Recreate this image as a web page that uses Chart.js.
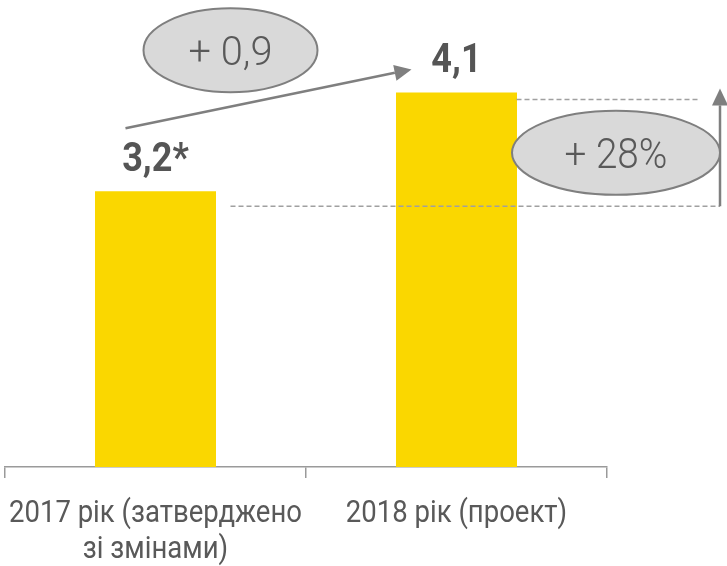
<!DOCTYPE html>
<html><head><meta charset="utf-8">
<script src="https://cdn.jsdelivr.net/npm/chart.js@4/dist/chart.umd.min.js"></script>
<style>html,body{margin:0;padding:0;background:#fff;}#wrap{width:727px;height:566px;position:relative}</style>
</head><body><div id="wrap"><canvas id="c"></canvas></div>
<script>
const categories = [['2017 рік (затверджено', 'зі змінами)'], ['2018 рік (проект)']];
const values = [3.2, 4.1];
const valueLabels = ['3,2*', '4,1'];
const diffLabel = '+ 0,9';
const pctLabel = '+ 28%';

const FONT = 'Roboto, "Liberation Sans", sans-serif';
const GRAY_TXT = '#595959';
const GRAY_LN = '#7f7f7f';

function sText(ctx, text, x, y, font, sx, color, baseline) {
  ctx.save();
  ctx.translate(x, y);
  ctx.scale(sx, 1);
  ctx.font = font;
  ctx.fillStyle = color;
  ctx.textAlign = 'center';
  ctx.textBaseline = baseline || 'alphabetic';
  ctx.fillText(text, 0, 0);
  ctx.restore();
}
function ellipse(ctx, cx, cy, rx, ry, text, size, sx) {
  ctx.save();
  ctx.beginPath();
  ctx.ellipse(cx, cy, rx, ry, 0, 0, Math.PI * 2);
  ctx.fillStyle = '#d9d9d9';
  ctx.fill();
  ctx.lineWidth = 2;
  ctx.strokeStyle = GRAY_LN;
  ctx.stroke();
  ctx.restore();
  sText(ctx, text, cx, cy + size * 0.36, '300 ' + size + 'px ' + FONT, sx, GRAY_TXT);
}
function arrow(ctx, x1, y1, x2, y2) {
  const ang = Math.atan2(y2 - y1, x2 - x1);
  const L = 17, W = 8;
  const bx = x2 - L * Math.cos(ang), by = y2 - L * Math.sin(ang);
  ctx.save();
  ctx.strokeStyle = GRAY_LN; ctx.fillStyle = GRAY_LN; ctx.lineWidth = 2.5;
  ctx.beginPath(); ctx.moveTo(x1, y1); ctx.lineTo(bx, by); ctx.stroke();
  ctx.beginPath();
  ctx.moveTo(x2, y2);
  ctx.lineTo(bx + W * Math.sin(ang), by - W * Math.cos(ang));
  ctx.lineTo(bx - W * Math.sin(ang), by + W * Math.cos(ang));
  ctx.closePath(); ctx.fill();
  ctx.restore();
}

const annot = {
  id: 'annot',
  afterDraw(chart) {
    const ctx = chart.ctx;
    const xs = chart.scales.x;
    // category labels along the x scale
    categories.forEach((lines, i) => {
      const px = xs.getPixelForTick(i);
      lines.forEach((ln, j) => {
        sText(ctx, ln, px, xs.bottom + 44 + j * 36, '32px ' + FONT, 0.86, GRAY_TXT);
      });
    });
  },
  afterDatasetsDraw(chart) {
    const ctx = chart.ctx;
    const meta = chart.getDatasetMeta(0);
    const b0 = meta.data[0], b1 = meta.data[1];
    // value labels
    meta.data.forEach((b, i) => sText(ctx, valueLabels[i], b.x, b.y - 20, 'bold 41px ' + FONT, 0.88, '#555555'));
    // dashed guide lines
    ctx.save();
    ctx.setLineDash([5, 3]);
    ctx.strokeStyle = '#a0a0a0';
    ctx.lineWidth = 1.5;
    ctx.beginPath();
    ctx.moveTo(b1.x + 60, b1.y + 7); ctx.lineTo(700, b1.y + 7);
    ctx.moveTo(b0.x + 75, b0.y + 15); ctx.lineTo(720, b0.y + 15);
    ctx.stroke();
    ctx.restore();
    // vertical arrow
    arrow(ctx, 720, b0.y + 15, 720, b1.y - 4);
    // diagonal arrow
    arrow(ctx, b0.x - 30, b0.y - 63, b1.x - 45, b1.y - 23);
    // ellipses
    ellipse(ctx, b0.x + 75, b0.y - 141, 87, 42, diffLabel, 41, 0.97);
    ellipse(ctx, 616, (b0.y + b1.y) / 2 + 11, 104, 42, pctLabel, 43, 0.9);
  }
};

new Chart(document.getElementById('c'), {
  type: 'bar',
  data: {
    labels: categories,
    datasets: [{
      data: values,
      backgroundColor: '#FAD700',
      barPercentage: 0.402,
      categoryPercentage: 1
    }]
  },
  options: {
    responsive: true,
    maintainAspectRatio: false,
    animation: false,
    layout: { padding: { left: 5, right: 120, top: 10, bottom: 88 } },
    plugins: { legend: { display: false }, tooltip: { enabled: false } },
    scales: {
      x: {
        offset: true,
        grid: { offset: true, drawOnChartArea: false, drawTicks: true, tickLength: 11, color: '#9a9a9a', lineWidth: 1.5 },
        border: { display: true, color: '#9a9a9a', width: 1.5 },
        ticks: { display: false }
      },
      y: { display: false, min: 0.69, max: 4.85 }
    }
  },
  plugins: [annot]
});
</script></body></html>
